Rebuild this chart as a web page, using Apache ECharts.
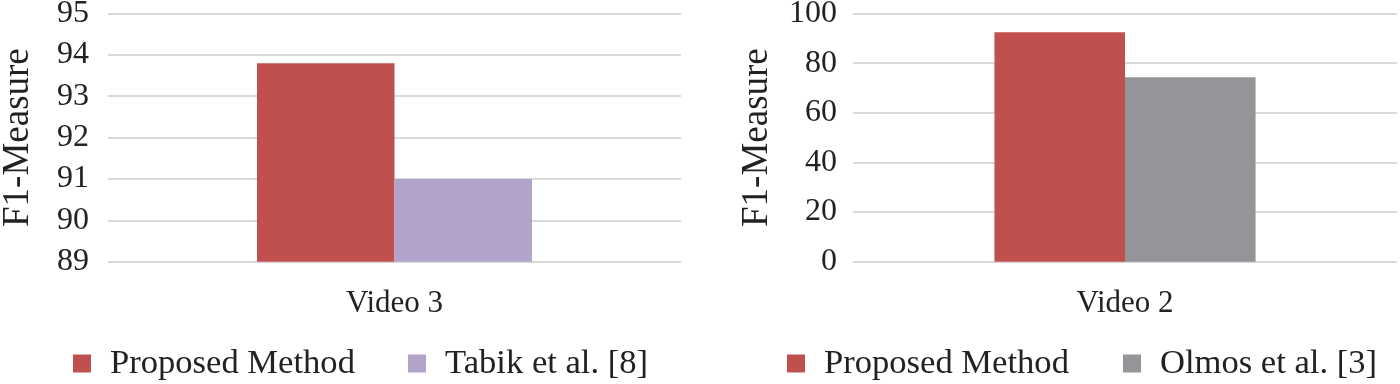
<!DOCTYPE html>
<html><head><meta charset="utf-8">
<script src="https://cdn.jsdelivr.net/npm/echarts@6/dist/echarts.min.js"></script>
<style>html,body{margin:0;padding:0;background:#fff}#c{width:1400px;height:384px}</style>
</head><body><div id="c"></div>
<script>
const leftCategories = ['Video 3'];
const rightCategories = ['Video 2'];
const leftProposed = [93.8];
const leftTabik = [91.0];
const rightProposed = [92.4];
const rightOlmos = [74.3];
const leftTicks = {min: 89, max: 95, interval: 1};
const rightTicks = {min: 0, max: 100, interval: 20};
const seriesNames = ['Proposed Method', 'Tabik et al. [8]', 'Olmos et al. [3]'];

const FONT = "'Liberation Serif', 'Times New Roman', Times, serif";
const RED = '#C0504D', PURPLE = '#B1A3C9', GRAY = '#939598', GRID = '#D9D9D9';

function yAx(idx, t, margin, gap) {
  return {
    type: 'value', gridIndex: idx, min: t.min, max: t.max, interval: t.interval,
    name: 'F1-Measure', nameLocation: 'middle', nameRotate: 90, nameGap: gap,
    nameTextStyle: {fontFamily: FONT, fontSize: 37, color: '#222'},
    axisLabel: {fontFamily: FONT, fontSize: 32, color: '#222', margin: margin},
    axisLine: {show: false}, axisTick: {show: false},
    splitLine: {lineStyle: {color: GRID, width: 2}}
  };
}
function xAx(idx, cats) {
  return {
    type: 'category', gridIndex: idx, data: cats,
    axisLine: {show: false}, axisTick: {show: false},
    axisLabel: {fontFamily: FONT, fontSize: 31, color: '#222', margin: 27}
  };
}
function leg(name, left) {
  return {
    data: [name], left: left, top: 346, padding: 0, itemWidth: 18, itemHeight: 18,
    icon: 'rect', selectedMode: false,
    textStyle: {fontFamily: FONT, fontSize: 34.6, color: '#222', padding: [0, 0, 0, 14]}
  };
}
const chart = echarts.init(document.getElementById('c'));
chart.setOption({
  animation: false,
  textStyle: {fontFamily: FONT},
  grid: [
    {left: 108, right: 719, top: 13.5, bottom: 122.3, containLabel: false, outerBoundsMode: 'none'},
    {left: 853, right: 3, top: 13.5, bottom: 122.3, containLabel: false, outerBoundsMode: 'none'}
  ],
  xAxis: [xAx(0, leftCategories), xAx(1, rightCategories)],
  yAxis: [yAx(0, leftTicks, 19, 71), yAx(1, rightTicks, 16, 77)],
  legend: [leg(seriesNames[0], 73), leg(seriesNames[1], 408), leg(seriesNames[0], 787), leg(seriesNames[2], 1123)],
  series: [
    {name: seriesNames[0], type: 'bar', xAxisIndex: 0, yAxisIndex: 0, data: leftProposed, itemStyle: {color: RED}, barGap: '0%', barCategoryGap: '52%'},
    {name: seriesNames[1], type: 'bar', xAxisIndex: 0, yAxisIndex: 0, data: leftTabik, itemStyle: {color: PURPLE}, barGap: '0%', barCategoryGap: '52%'},
    {name: seriesNames[0], type: 'bar', xAxisIndex: 1, yAxisIndex: 1, data: rightProposed, itemStyle: {color: RED}, barGap: '0%', barCategoryGap: '52%'},
    {name: seriesNames[2], type: 'bar', xAxisIndex: 1, yAxisIndex: 1, data: rightOlmos, itemStyle: {color: GRAY}, barGap: '0%', barCategoryGap: '52%'}
  ]
});
</script></body></html>
